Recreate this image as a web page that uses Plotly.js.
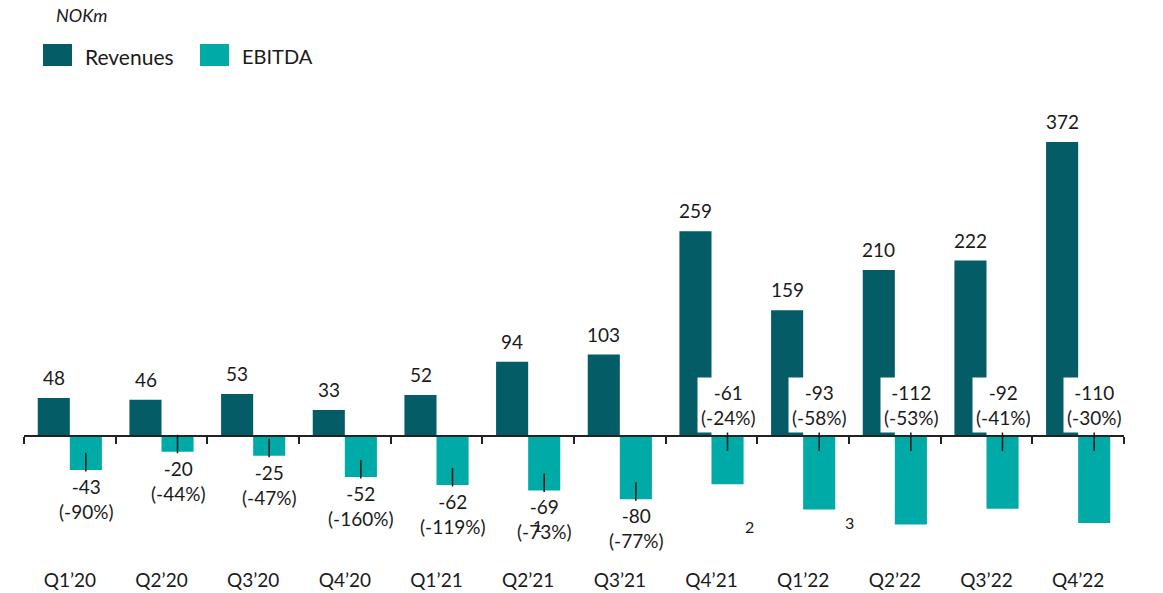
<!DOCTYPE html>
<html>
<head>
<meta charset="utf-8">
<script src="https://cdn.plot.ly/plotly-3.0.1.min.js"></script>
<style>html,body{margin:0;padding:0;background:#fff;}#chart{width:1163px;height:593px;}</style>
</head>
<body>
<div id="chart"></div>
<script>
// ---- data ----
const quarters = ["Q1\u201920","Q2\u201920","Q3\u201920","Q4\u201920","Q1\u201921","Q2\u201921","Q3\u201921","Q4\u201921","Q1\u201922","Q2\u201922","Q3\u201922","Q4\u201922"];
const revenues = [48,46,53,33,52,94,103,259,159,210,222,372];
const ebitda = [-43,-20,-25,-52,-62,-69,-80,-61,-93,-112,-92,-110];
const ebitdaMargin = [-90,-44,-47,-160,-119,-73,-77,-24,-58,-53,-41,-30];
const footnotes = [{q:"Q2\u201921", t:"1"},{q:"Q4\u201921", t:"2"},{q:"Q1\u201922", t:"3"}];

// ---- style ----
const REV = "#035c66", EB = "#00aaa7", TXT = "#1a1a1a", FONT = "Lato, 'Open Sans', sans-serif";
const W = 1163, H = 593, ML = 24, MR = 39, MT = 100, MB = 48;
const yMin = -138, yMax = 425.3;
const zeroFrac = (0 - yMin) / (yMax - yMin);
const pw = W - ML - MR, ph = H - MT - MB;
const px = x => (x - ML) / pw, py = y => (H - MB - y) / ph;

const traces = [
  {type:"bar", name:"Revenues", x:quarters, y:revenues, marker:{color:REV}, hoverinfo:"x+y", showlegend:false},
  {type:"bar", name:"EBITDA", x:quarters, y:ebitda, marker:{color:EB}, hoverinfo:"x+y", showlegend:false},
  {type:"scatter", x:quarters, y:quarters.map(()=>0), xaxis:"x2", yaxis:"y", mode:"markers", marker:{opacity:0}, showlegend:false, hoverinfo:"skip"}
];

const ann = [];
revenues.forEach((v,i)=>{
  ann.push({x:quarters[i], y:v, xref:"x", yref:"y", text:String(v), showarrow:false, yanchor:"bottom", xshift:-16, yshift:7, font:{family:FONT,size:19,color:TXT}});
});
ebitda.forEach((v,i)=>{
  const txt = v + "<br>(" + ebitdaMargin[i] + "%)";
  const base = {x:quarters[i], xref:"x", yref:"y", text:txt, showarrow:true, arrowhead:0, arrowwidth:1.5, arrowcolor:TXT, standoff:0, ax:0, xshift:16, borderpad:3, font:{family:FONT,size:19,color:TXT}};
  if (i < 7) {
    ann.push(Object.assign(base, {y:v, yshift:17, ay:46}));
  } else {
    ann.push(Object.assign(base, {y:-19, ay:-46, bgcolor:"#ffffff"}));
  }
});
footnotes.forEach(f=>{
  const shift = {"1":9,"2":38,"3":46}[f.t];
  const yv = {"1":-113,"2":-114,"3":-110}[f.t];
  ann.push({x:f.q, y:yv, xref:"x", yref:"y", text:f.t, showarrow:false, xshift:shift, font:{family:FONT,size:16,color:TXT}});
});
// title & legend
ann.push({xref:"paper", yref:"paper", x:px(54), y:py(15), xanchor:"left", yanchor:"middle", text:"<i>NOKm</i>", showarrow:false, font:{family:FONT,size:18,color:TXT}});
ann.push({xref:"paper", yref:"paper", x:px(83), y:py(56), xanchor:"left", yanchor:"middle", text:"Revenues", showarrow:false, font:{family:FONT,size:21,color:TXT}});
ann.push({xref:"paper", yref:"paper", x:px(240), y:py(56), xanchor:"left", yanchor:"middle", text:"EBITDA", showarrow:false, font:{family:FONT,size:20,color:TXT}});
const shapes = [
  {type:"rect", xref:"paper", yref:"paper", x0:px(43), x1:px(72), y0:py(66), y1:py(44), fillcolor:REV, line:{width:0}},
  {type:"rect", xref:"paper", yref:"paper", x0:px(200), x1:px(229), y0:py(66), y1:py(44), fillcolor:EB, line:{width:0}}
];

const layout = {
  width:W, height:H, margin:{l:ML, r:MR, t:MT, b:MB},
  paper_bgcolor:"#fff", plot_bgcolor:"#fff",
  barmode:"group", bargap:0.3, bargroupgap:0,
  font:{family:FONT, size:19, color:TXT},
  showlegend:false,
  xaxis:{type:"category", range:[-0.5,11.5], showline:false, showgrid:false, zeroline:false, ticks:"", ticklabelstandoff:22, tickfont:{family:FONT,size:19,color:TXT}, fixedrange:true},
  xaxis2:{type:"category", overlaying:"x", anchor:"free", position:zeroFrac, side:"bottom", range:[-0.5,11.5], showline:true, linecolor:"#222", linewidth:2, ticks:"outside", tickson:"boundaries", ticklen:7, tickwidth:2, tickcolor:"#222", showticklabels:false, showgrid:false, zeroline:false},
  yaxis:{range:[yMin,yMax], visible:false, showgrid:false, zeroline:false, fixedrange:true},
  annotations:ann, shapes:shapes
};
Plotly.newPlot("chart", traces, layout, {displayModeBar:false, staticPlot:true});
</script>
</body>
</html>
